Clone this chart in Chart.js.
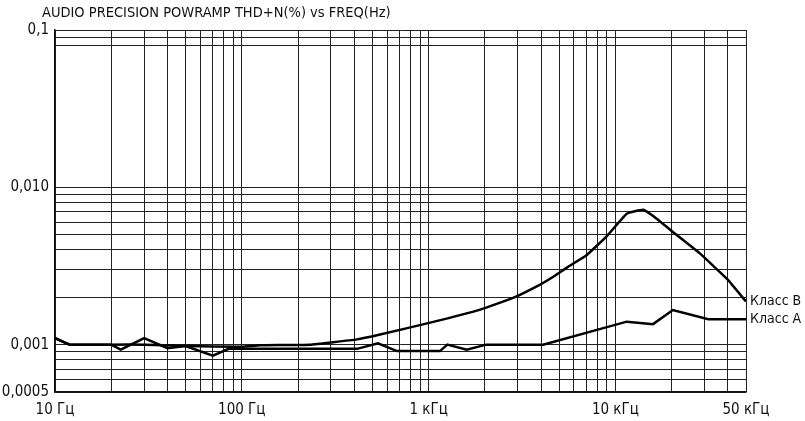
<!DOCTYPE html>
<html lang="ru">
<head>
    <meta charset="UTF-8">
    <title>THD+N vs FREQ</title>
    <script src="https://cdn.jsdelivr.net/npm/chart.js@4.4.0/dist/chart.umd.min.js"></script>
    <style>
        html, body { margin: 0; padding: 0; background: white; }
        #wrap { width: 805px; height: 421px; position: relative; }
    </style>
</head>
<body>
<div id="wrap"><canvas id="thd"></canvas></div>
<script>
    const chartTitle = "AUDIO PRECISION POWRAMP THD+N(%) vs FREQ(Hz)";

    // Класс A (нижняя кривая)
    const freqA = [10, 12, 20, 22.5, 30, 40, 50, 70, 85, 150, 414, 536, 677, 1150, 1260, 1600, 2030, 4100, 11500, 15900, 20300, 31400, 50000];
    const thdA = [0.0011, 0.001, 0.001, 0.00093, 0.0011, 0.00095, 0.00098, 0.00085, 0.00094, 0.00094, 0.00094, 0.00102, 0.00091, 0.00091, 0.001, 0.00093, 0.001, 0.001, 0.0014, 0.00135, 0.00166, 0.00145, 0.00145];

    // Класс B (верхняя кривая)
    const freqB = [10, 12, 20, 30, 50, 100, 125, 231, 414, 550, 1020, 1890, 2830, 3930, 4650, 5520, 7000, 9000, 11500, 14100, 16700, 20300, 28300, 39800, 50000];
    const thdB = [0.0011, 0.001, 0.001, 0.001, 0.00098, 0.00097, 0.00099, 0.001, 0.00108, 0.00116, 0.00138, 0.00167, 0.00198, 0.0024, 0.0027, 0.0031, 0.0037, 0.0049, 0.0068, 0.0072, 0.0063, 0.0052, 0.0038, 0.0026, 0.00188];

    const seriesNames = ["Класс A", "Класс B"];

    // grid lines and labels
    const xTicks = [10, 20, 30, 40, 50, 60, 70, 80, 90, 100, 200, 300, 400, 500, 600, 700, 800, 900,
        1000, 2000, 3000, 4000, 5000, 6000, 7000, 8000, 9000, 10000, 20000, 30000, 40000, 50000];
    const xLabels = { 10: "10 Гц", 100: "100 Гц", 1000: "1 кГц", 10000: "10 кГц", 50000: "50 кГц" };
    const yTicks = [0.0005, 0.0006, 0.0007, 0.0008, 0.0009, 0.001, 0.002, 0.003, 0.004, 0.005, 0.006,
        0.007, 0.008, 0.009, 0.01, 0.08, 0.09, 0.1];
    const yLabels = { 0.0005: "0,0005", 0.001: "0,001", 0.01: "0,010", 0.1: "0,1" };

    const FONT = "'Liberation Sans Narrow', 'DejaVu Sans Condensed', 'Liberation Sans', sans-serif";

    const toXY = (xs, ys) => xs.map((x, i) => ({ x: x, y: ys[i] }));

    // title + series names at the end of each line
    const extraText = {
        id: 'extraText',
        afterDraw(chart) {
            const ctx = chart.ctx;
            ctx.save();
            ctx.fillStyle = "#111";
            ctx.font = "14.5px " + FONT;
            ctx.textBaseline = "middle";
            ctx.textAlign = "left";
            ctx.fillText(chartTitle, 42, 13);
            ctx.font = "14px " + FONT;
            chart.data.datasets.forEach((ds, i) => {
                const meta = chart.getDatasetMeta(i);
                const last = meta.data[meta.data.length - 1];
                ctx.fillText(ds.label, last.x + 4, last.y);
            });
            ctx.restore();
        }
    };

    new Chart(document.getElementById("thd"), {
        type: "line",
        data: {
            datasets: [{
                label: seriesNames[0],
                data: toXY(freqA, thdA),
                borderColor: "black",
                borderWidth: 2.5,
                pointRadius: 0,
                tension: 0
            }, {
                label: seriesNames[1],
                data: toXY(freqB, thdB),
                borderColor: "black",
                borderWidth: 2.5,
                pointRadius: 0,
                tension: 0.1
            }]
        },
        options: {
            animation: false,
            responsive: true,
            maintainAspectRatio: false,
            layout: { padding: { top: 30, right: 59, left: 0, bottom: 0 } },
            plugins: {
                legend: { display: false },
                tooltip: { enabled: false },
                title: { display: false }
            },
            scales: {
                x: {
                    type: "logarithmic",
                    min: 10,
                    max: 50000,
                    afterBuildTicks: s => { s.ticks = xTicks.map(v => ({ value: v })); },
                    afterFit: s => { s.height = 29; },
                    grid: { color: "#222", lineWidth: 1, drawTicks: false },
                    border: { color: "#111", width: 1.5 },
                    ticks: {
                        autoSkip: false,
                        maxRotation: 0,
                        padding: 9,
                        color: "#111",
                        font: { family: FONT, size: 15 },
                        callback: v => xLabels[v] || ""
                    }
                },
                y: {
                    type: "logarithmic",
                    min: 0.0005,
                    max: 0.1,
                    afterBuildTicks: s => { s.ticks = yTicks.map(v => ({ value: v })); },
                    afterFit: s => { s.width = 55; },
                    grid: { color: "#222", lineWidth: 1, drawTicks: false },
                    border: { color: "#111", width: 1.5 },
                    ticks: {
                        autoSkip: false,
                        padding: 6,
                        color: "#111",
                        font: { family: FONT, size: 15 },
                        callback: v => yLabels[v] || ""
                    }
                }
            }
        },
        plugins: [extraText]
    });
</script>
</body>
</html>
